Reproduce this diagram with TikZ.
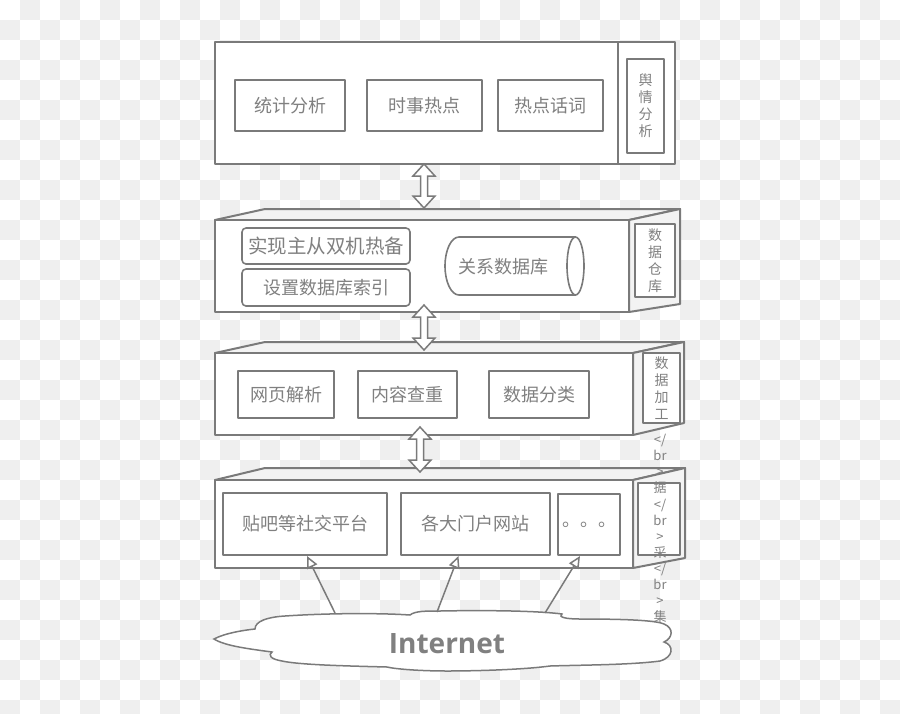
\documentclass[tikz,border=0pt]{standalone}
\usepackage{fontspec}
\newfontfamily\cjk{Noto Sans CJK SC}
\newfontfamily\latinbold{Open Sans}
\usetikzlibrary{arrows.meta}
\definecolor{linegray}{RGB}{122,122,122}
\definecolor{txtgray}{RGB}{128,128,128}
\definecolor{facegray}{RGB}{243,243,243}
\definecolor{chk}{RGB}{239,239,239}
\tikzset{
  frame/.style={draw=linegray, line width=2pt, line join=round},
  box/.style={frame, fill=white, text=txtgray, font=\cjk\fontsize{18}{18}\selectfont, inner sep=0pt},
  rbox/.style={box, rounded corners=4pt, line width=1.6pt},
  vbox/.style={box, align=center, font=\cjk\fontsize{14}{17}\selectfont},
  updown/.style={draw=linegray, line width=1.5pt, fill=white, line join=miter},
  up/.style={draw=linegray, line width=1.5pt, -{Triangle[fill=white, length=12pt, width=11pt, line width=1.5pt]}}
}
\begin{document}
\begin{tikzpicture}[x=1pt,y=-1pt]
\useasboundingbox (0,0) rectangle (900,713);
% checkerboard
\begin{scope}
\clip (0,0) rectangle (900,713);
\fill[white] (0,0) rectangle (900,713);
\foreach \j in {0,...,35}{\foreach \i in {0,...,44}{
  \pgfmathtruncatemacro\k{mod(\i+\j,2)}
  \ifnum\k=1 \fill[chk] (\i*20,\j*20) rectangle ++(20,20);\fi}}
\end{scope}

% layer 1
\draw[frame, fill=white] (215,42) rectangle (675,164);
\draw[frame] (618,42) -- (618,164);
\node[box, minimum width=110pt, minimum height=51pt] (tjfx) at (290,105.5) {统计分析};
\node[box, minimum width=115pt, minimum height=51pt] (ssrd) at (424.5,105.5) {时事热点};
\node[box, minimum width=105pt, minimum height=51pt] (rdhc) at (550.5,105.5) {热点话词};
\node[vbox, minimum width=37pt, minimum height=94pt] (yqfx) at (645.5,106) {舆\\情\\分\\析};

% layer 4
\draw[frame, fill=facegray] (215,480) -- (265,468) -- (685,468) -- (633,480) -- cycle;
\draw[frame, fill=facegray] (633,480) -- (685,468) -- (685,558) -- (633,568) -- cycle;
\draw[frame, fill=white] (215,480) rectangle (633,568);
\node[box, minimum width=164pt, minimum height=62pt] (s1) at (305,524) {贴吧等社交平台};
\node[box, minimum width=149pt, minimum height=62pt] (s2) at (475.5,524) {各大门户网站};
\node[box, minimum width=62pt, minimum height=61pt] (s3) at (589,524.5) {。。。};
\node[vbox, minimum width=42pt, minimum height=72pt] (sjcj) at (659,519) {};

% layer 3
\draw[frame, fill=facegray] (215,353) -- (265,342) -- (684,342) -- (633,353) -- cycle;
\draw[frame, fill=facegray] (633,353) -- (684,342) -- (684,423) -- (633,435) -- cycle;
\draw[frame, fill=white] (215,353) rectangle (633,435);
\node[box, minimum width=96pt, minimum height=47pt] (wyjx) at (286,394.5) {网页解析};
\node[box, minimum width=99pt, minimum height=47pt] (nrcc) at (407.5,394.5) {内容查重};
\node[box, minimum width=100pt, minimum height=47pt] (sjfl) at (539,394.5) {数据分类};
\node[vbox, minimum width=37pt, minimum height=70pt] (sjjg) at (661.5,388) {数\\据\\加\\工};

% layer 2
\draw[frame, fill=facegray] (215,220) -- (265,209) -- (680,209) -- (629,220) -- cycle;
\draw[frame, fill=facegray] (629,220) -- (680,209) -- (680,304) -- (629,312) -- cycle;
\draw[frame, fill=white] (215,220) rectangle (629,312);
\node[rbox, minimum width=168pt, minimum height=36pt, font=\cjk\fontsize{19.5}{19.5}\selectfont] (zcrb) at (326,246) {实现主从双机热备};
\node[rbox, minimum width=168pt, minimum height=37pt] (sysy) at (326,287.5) {设置数据库索引};
\draw[frame, line width=1.6pt, fill=white] (575.5,237) -- (459,237)
  arc[start angle=270, end angle=90, x radius=14, y radius=29] -- (575.5,295);
\draw[frame, line width=1.6pt, fill=white] (575.5,266) ellipse[x radius=8.5, y radius=29];
\node[text=txtgray, font=\cjk\fontsize{18}{18}\selectfont] (gxsjk) at (503,267) {关系数据库};
\node[vbox, minimum width=40pt, minimum height=73pt] (sjck) at (655,260.5) {数\\据\\仓\\库};

% double arrows
\foreach \x/\a/\b in {424/164/208, 424/305/350, 420/427/472}
  \draw[updown] (\x,\a) -- (\x+11,\a+12) -- (\x+3.5,\a+12) -- (\x+3.5,\b-12) -- (\x+11,\b-12)
    -- (\x,\b) -- (\x-11,\b-12) -- (\x-3.5,\b-12) -- (\x-3.5,\a+12) -- (\x-11,\a+12) -- cycle;

% text spilling out of the label box
\node[text=txtgray, font=\cjk\fontsize{13}{16.1}\selectfont, align=center, inner sep=0pt] (sjcjtxt) at (660,528.5)
  {</\\br\\>\\据\\</\\br\\>\\采\\</\\br\\>\\集};

% internet cloud
\draw[draw=linegray, line width=1.5pt, fill=white] (214,639)
  .. controls (225,633) and (245,630) .. (255,629)
  .. controls (255,621) and (268,617) .. (285,616)
  .. controls (330,613) and (380,613) .. (410,615)
  .. controls (415,611) and (425,611) .. (440,611)
  .. controls (490,610) and (540,611) .. (562,614)
  .. controls (558,617) and (565,619) .. (580,619)
  .. controls (620,619) and (655,620) .. (664,624)
  .. controls (674,628) and (673,638) .. (664,642)
  .. controls (674,645) and (674,657) .. (660,661)
  .. controls (630,665) and (580,665) .. (550,666)
  .. controls (520,670) and (470,671) .. (447,671)
  .. controls (420,671) and (395,669) .. (387,667)
  .. controls (350,666) and (300,665) .. (282,661)
  .. controls (270,659) and (268,655) .. (272,652)
  .. controls (250,649) and (225,646) .. (214,639) -- cycle;
\node[text=txtgray, font=\latinbold\bfseries\fontsize{28}{28}\selectfont] (net) at (447,644) {Internet};
\coordinate (c1) at (335,613);
\coordinate (c2) at (437,612);
\coordinate (c3) at (545,613);
\draw[up] (c1) -- ([xshift=2pt]s1.south);
\draw[up] (c2) -- ([xshift=-17pt]s2.south);
\draw[up] (c3) -- ([xshift=-9pt]s3.south);
\end{tikzpicture}
\end{document}
